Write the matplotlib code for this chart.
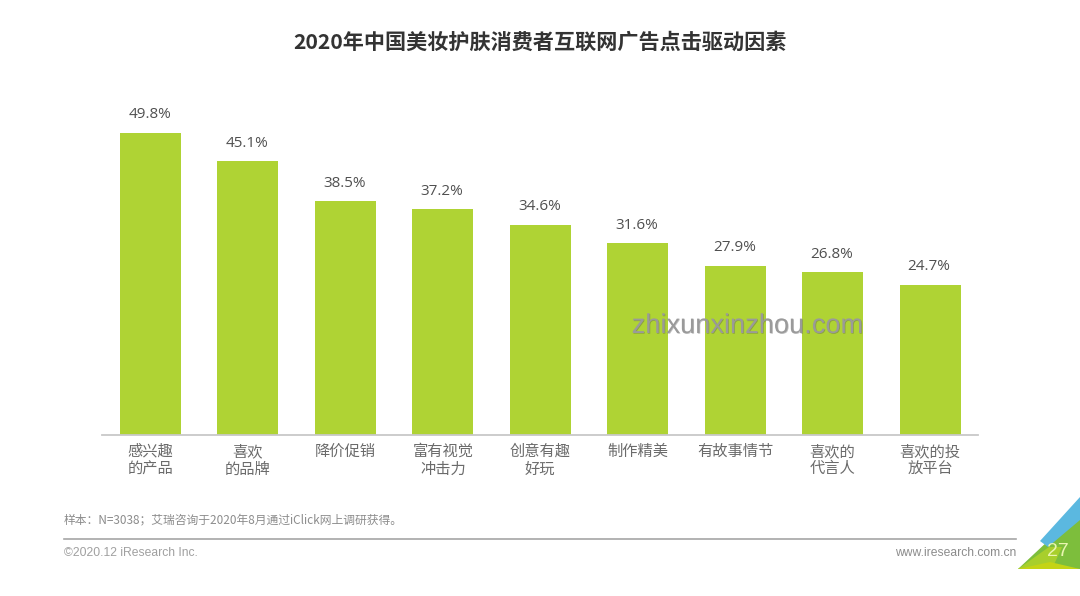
import matplotlib
matplotlib.use("Agg")
import matplotlib.pyplot as plt
import matplotlib.patheffects as pe
from matplotlib.patches import Polygon

plt.rcParams["font.family"] = ["Noto Sans CJK SC", "DejaVu Sans"]

W, H = 1080, 596

categories = ["感兴趣\n的产品", "喜欢\n的品牌", "降价促销", "富有视觉\n冲击力", "创意有趣\n好玩",
              "制作精美", "有故事情节", "喜欢的\n代言人", "喜欢的投\n放平台"]
values = [49.8, 45.1, 38.5, 37.2, 34.6, 31.6, 27.9, 26.8, 24.7]

title = "2020年中国美妆护肤消费者互联网广告点击驱动因素"
note = "样本：N=3038；艾瑞咨询于2020年8月通过iClick网上调研获得。"
BAR = "#AFD334"
GREY = "#6B6B6B"

fig = plt.figure(figsize=(W / 100, H / 100), dpi=100, facecolor="white")

# chart axes, placed in pixels: x 102..978, baseline at y=434.5
ax = fig.add_axes([102 / W, 1 - 434.5 / H, 876 / W, 334.5 / H])
ax.bar(range(len(values)), values, width=0.626, color=BAR)
ax.set_xlim(-0.498, 8.492)
ax.set_ylim(0, 55.25)
for i, v in enumerate(values):
    ax.text(i - 0.01, v + 3.0, f"{v:.1f}%", ha="center", va="center", fontsize=11, color="#505050",
            family=["Open Sans", "DejaVu Sans"])
ax.set_yticks([])
ax.set_xticks(range(len(values)))
ax.set_xticklabels(categories, fontsize=11, color=GREY, linespacing=1.05)
ax.tick_params(axis="x", length=0, pad=6)
for sp in ("top", "right", "left"):
    ax.spines[sp].set_visible(False)
ax.spines["bottom"].set_color("#C8C8C8")
ax.spines["bottom"].set_linewidth(1.3)
ax.patch.set_alpha(0)

# page furniture in pixel coordinates
page = fig.add_axes([0, 0, 1, 1], zorder=3)
page.set_xlim(0, W)
page.set_ylim(H, 0)
page.axis("off")

page.text(540, 42, title, ha="center", va="center", fontsize=15.2, weight="bold", color="#333333")
page.text(64, 519.5, note, ha="left", va="center", fontsize=8.5, color="#8C8C8C")
page.plot([64, 1016], [539, 539], color="#A6A6A6", lw=1.2)
page.text(64, 553, "©2020.12 iResearch Inc.", ha="left", va="center", fontsize=8.7, color="#A0A0A0",
          family=["Liberation Sans"])
page.text(1016, 553, "www.iresearch.com.cn", ha="right", va="center", fontsize=8.7, color="#8C8C8C",
          family=["Liberation Sans"])

# corner triangles behind the page number
page.add_patch(Polygon([(1018, 569), (1080, 569), (1080, 505), (1049, 540)], fc="#7DBE3C", ec="none"))
page.add_patch(Polygon([(1018, 569), (1049, 547), (1062, 547), (1052, 569)], fc="#A8CF2C", ec="none"))
page.add_patch(Polygon([(1018, 569), (1080, 569), (1050, 562)], fc="#C4D415", ec="none"))
page.add_patch(Polygon([(1040, 541), (1080, 497), (1080, 520), (1048, 547)], fc="#5BB8E0", ec="none"))
page.text(1058, 552, "27", ha="center", va="center", fontsize=14, color="#EAF5B0",
          family=["Liberation Sans"])

# site watermark across the bars
mark = page.text(747.5, 326, "zhixunxinzhou.com", ha="center", va="center", fontsize=19.6, color="#9A9A9A",
                 family=["Liberation Sans"])
mark.set_path_effects([pe.SimplePatchShadow(offset=(0.5, -0.5), shadow_rgbFace="#4A4A4A", alpha=0.35),
                       pe.Normal()])

fig.savefig("out.png", dpi=100)
